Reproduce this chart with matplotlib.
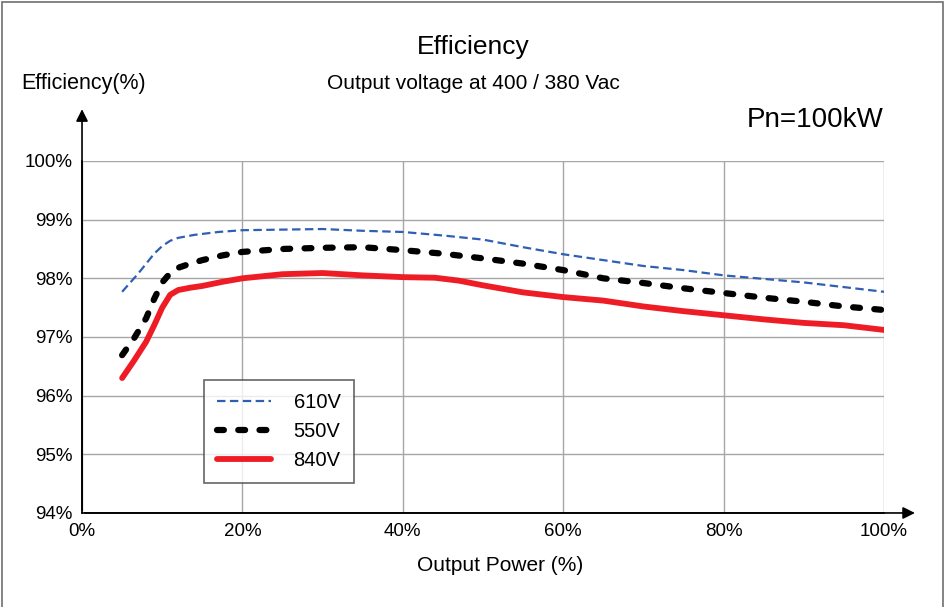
import matplotlib.pyplot as plt
from matplotlib.patches import Rectangle

plt.rcParams['font.family'] = ['Liberation Sans', 'DejaVu Sans']

# load (%) and efficiency (%)
load_610 = [5, 7, 9, 10, 11, 12, 14, 17, 20, 25, 30, 35, 40, 45, 50, 55, 60, 65, 70, 75, 80, 85, 90, 95, 100]
eff_610 = [97.77, 98.08, 98.42, 98.55, 98.64, 98.69, 98.74, 98.79, 98.82, 98.83, 98.84, 98.81, 98.79, 98.73, 98.66, 98.53, 98.41, 98.31, 98.21, 98.14, 98.05, 97.99, 97.93, 97.85, 97.77]

load_550 = [5, 6.5, 8, 9, 10, 11, 12, 13.5, 15, 17.5, 20, 25, 30, 35, 40, 45, 50, 55, 60, 65, 70, 75, 80, 85, 90, 95, 100]
eff_550 = [96.69, 96.98, 97.32, 97.65, 97.93, 98.09, 98.18, 98.25, 98.31, 98.39, 98.45, 98.50, 98.52, 98.53, 98.48, 98.42, 98.34, 98.25, 98.14, 98.00, 97.92, 97.83, 97.75, 97.67, 97.60, 97.52, 97.46]

load_840 = [5, 6.5, 8, 9, 10, 11, 12, 13.5, 15, 17.5, 20, 25, 30, 35, 40, 44, 47, 50, 55, 60, 65, 70, 75, 80, 85, 90, 95, 100]
eff_840 = [96.30, 96.60, 96.92, 97.20, 97.50, 97.72, 97.80, 97.84, 97.87, 97.94, 98.00, 98.07, 98.09, 98.05, 98.02, 98.01, 97.96, 97.88, 97.76, 97.68, 97.62, 97.52, 97.44, 97.37, 97.30, 97.24, 97.20, 97.12]

x_ticks = [0, 20, 40, 60, 80, 100]
y_ticks = [94, 95, 96, 97, 98, 99, 100]

fig = plt.figure(figsize=(9.46, 6.07), dpi=100)
ax = fig.add_axes([0.0867, 0.1549, 0.8478, 0.5799])

ax.plot(load_610, eff_610, color='#2f5fb3', lw=1.6, ls=(0, (3.8, 2)), label='610V')
ax.plot(load_550, eff_550, color='black', lw=4.5, ls=(0, (1.1, 2.3)), dash_capstyle='round', label='550V')
ax.plot(load_840, eff_840, color='#ee1c25', lw=4.2, solid_capstyle='round', label='840V')

ax.set_xlim(0, 100)
ax.set_ylim(94, 100)
ax.set_xticks(x_ticks)
ax.set_xticklabels([f'{v}%' for v in x_ticks])
ax.set_yticks(y_ticks)
ax.set_yticklabels([f'{v}%' for v in y_ticks])
ax.tick_params(length=0, labelsize=13.5, pad=7)
ax.grid(True, color='#a6a6a6', lw=1)

for s in ['top', 'right']:
    ax.spines[s].set_visible(False)
for s in ['left', 'bottom']:
    ax.spines[s].set_color('black')
    ax.spines[s].set_linewidth(1.2)

# axis arrows
ax.annotate('', xy=(1.042, 0), xytext=(0, 0), xycoords='axes fraction',
            arrowprops=dict(arrowstyle='-|>', color='black', lw=1.2, mutation_scale=18))
ax.annotate('', xy=(0, 1.155), xytext=(0, 0), xycoords='axes fraction',
            arrowprops=dict(arrowstyle='-|>', color='black', lw=1.2, mutation_scale=18))

leg = ax.legend(loc='upper left', bbox_to_anchor=(0.152, 0.378), fontsize=14.5,
                frameon=True, fancybox=False, edgecolor='#404040',
                handlelength=2.7, handletextpad=1.1, borderpad=0.65, labelspacing=0.5,
                borderaxespad=0)
leg.get_frame().set_linewidth(1.2)

fig.text(0.5, 0.923, 'Efficiency', ha='center', va='center', fontsize=19)
fig.text(0.5, 0.863, 'Output voltage at 400 / 380 Vac', ha='center', va='center', fontsize=15)
fig.text(0.088, 0.863, 'Efficiency(%)', ha='center', va='center', fontsize=15.5)
fig.text(0.862, 0.802, 'Pn=100kW', ha='center', va='center', fontsize=20)
fig.text(0.529, 0.069, 'Output Power (%)', ha='center', va='center', fontsize=15)

fig.patches.append(Rectangle((0.002, -0.05), 0.995, 1.046, transform=fig.transFigure,
                             fill=False, edgecolor='#707070', lw=1.2))

fig.savefig('out.png', dpi=100)
